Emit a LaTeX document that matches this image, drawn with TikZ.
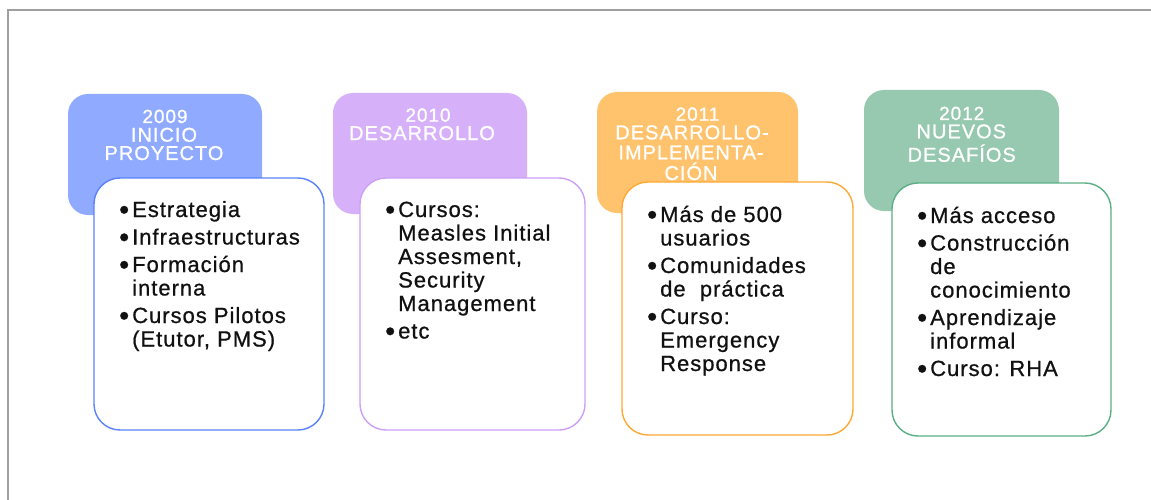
\documentclass[tikz,border=0pt]{standalone}
\usepackage{fontspec}
\setmainfont{Liberation Sans}
\newfontfamily\hdfont[LetterSpace=5,FakeBold=1.0]{Liberation Sans}
\newfontfamily\bdfont[LetterSpace=4.5,FakeBold=0.7]{Liberation Sans}
\definecolor{hA}{HTML}{8FAAFF}
\definecolor{sA}{HTML}{5A82FF}
\definecolor{hB}{HTML}{D7B0FA}
\definecolor{sB}{HTML}{CDA0F8}
\definecolor{hC}{HTML}{FFC36E}
\definecolor{sC}{HTML}{FFA833}
\definecolor{hD}{HTML}{96C9AF}
\definecolor{sD}{HTML}{5AAF87}
\definecolor{frameg}{HTML}{A0A0A0}
\definecolor{bodyk}{HTML}{111111}
\newcommand\bul{\leavevmode\llap{\raisebox{-2.3pt}{\scalebox{1.3}{\textbullet}}\hspace{3pt}}}
\newcommand\bodytxt[1]{\parbox[t]{240pt}{\bdfont\fontsize{22}{23.5}\selectfont\lineskiplimit=-\maxdimen\parskip=4pt\parindent=0pt #1}}
\tikzset{
  hdrbox/.style={fill=#1, draw=none, rounded corners=20pt},
  bodybox/.style={draw=#1, line width=1.4pt, fill=white, rounded corners=26pt},
  htext/.style={text=white, font=\hdfont\fontsize{20}{20}\selectfont, inner sep=0pt, anchor=base},
  ytext/.style={text=white, font=\hdfont\fontsize{19}{19}\selectfont, inner sep=0pt, anchor=base},
  btext/.style={inner sep=0pt, anchor=base west, text=bodyk},
}
\begin{document}
\begin{tikzpicture}[x=1pt,y=-1pt]
\useasboundingbox (0,0) rectangle (1151,500);
\fill[white] (0,0) rectangle (1151,500);
\draw[frameg, line width=1.6pt] (8,501) -- (8,10) -- (1152,10);

% ---- 2009
\path[hdrbox=hA] (68,94) rectangle (262,215);
\node[ytext] (y1) at (165,123) {2009};
\node[htext] (h1a) at (164,141.7) {INICIO};
\node[htext] (h1b) at (164,160) {PROYECTO};
\path[bodybox=sA] (94,178) rectangle (324,430);
\node[btext] (t1) at (132,217) {\bodytxt{\bul Estrategia\par
\bul Infraestructuras\par
\bul Formación\newline interna\par
\bul Cursos Pilotos\newline (Etutor, PMS)}};

% ---- 2010
\path[hdrbox=hB] (333,93) rectangle (527,214);
\node[ytext] (y2) at (428,121.7) {2010};
\node[htext] (h2a) at (422,140) {DESARROLLO};
\path[bodybox=sB] (360,178) rectangle (585,430);
\node[btext] (t2) at (398,217) {\bodytxt{\bul Cursos:\newline Measles Initial\newline Assesment,\newline Security\newline Management\par
\bul etc}};

% ---- 2011
\path[hdrbox=hC] (597,92) rectangle (798,213);
\node[ytext] (y3) at (697.5,120.7) {2011};
\node[htext] (h3a) at (692,139.3) {DESARROLLO-};
\node[htext] (h3b) at (691,159.3) {IMPLEMENTA-};
\node[htext] (h3c) at (691,180) {CIÓN};
\path[bodybox=sC] (622,182) rectangle (853,435);
\node[btext] (t3) at (660,222) {\bodytxt{\bul Más de 500\newline usuarios\par
\bul Comunidades\newline de\ \ práctica\par
\bul Curso:\newline Emergency\newline Response}};

% ---- 2012
\path[hdrbox=hD] (864,90) rectangle (1059,211);
\node[ytext] (y4) at (961.7,120) {2012};
\node[htext] (h4a) at (961.3,138.3) {NUEVOS};
\node[htext] (h4b) at (961.7,161.7) {DESAFÍOS};
\path[bodybox=sD] (892,183) rectangle (1111,436);
\node[btext] (t4) at (930,223) {\bodytxt{\bul Más acceso\par
\bul Construcción\newline de\newline conocimiento\par
\bul Aprendizaje\newline informal\par
\bul Curso: RHA}};
\end{tikzpicture}
\end{document}
